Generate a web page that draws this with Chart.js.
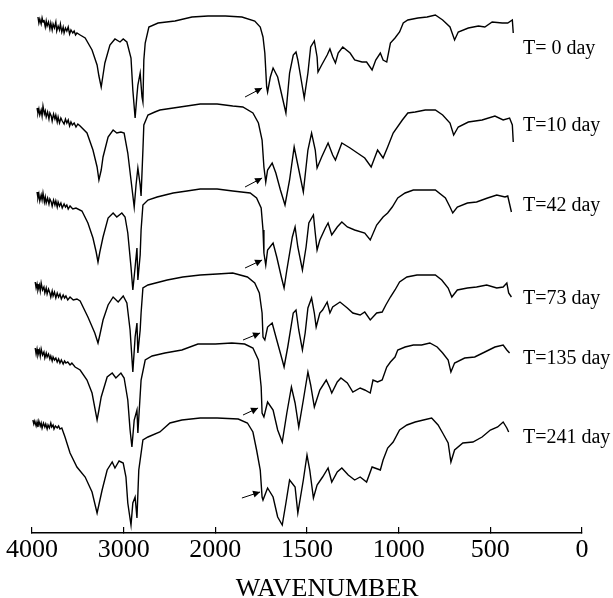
<!DOCTYPE html>
<html>
<head>
<meta charset="utf-8">
<script src="https://cdn.jsdelivr.net/npm/chart.js@4.4.1/dist/chart.umd.min.js"></script>
<style>
    html, body { margin: 0; padding: 0; background: #fff; }
    #wrap { width: 613px; height: 598px; }
</style>
</head>
<body>
<div id="wrap"><canvas id="ftir" width="613" height="598"></canvas></div>
<script>
// =================================================================
// FTIR spectra vs. ageing time (stacked traces)
// =================================================================

// Labels of the six samples (top to bottom)
const sampleLabels = ['T= 0 day', 'T=10 day', 'T=42 day', 'T=73 day', 'T=135 day', 'T=241 day'];

// Wavenumbers labelled on the axis (scale is doubled below 2000 cm-1)
const tickWavenumbers = [0, 500, 1000, 1500, 2000, 3000, 4000];

// Each trace: [wavenumber (cm-1), transmittance (a.u., stacked)]
const traceDay0 = [
    [3935, 516], [3925, 510], [3915, 514], [3900, 509], [3890, 515], [3880, 511], [3870, 513],
    [3855, 506], [3845, 512], [3835, 507], [3820, 511], [3805, 504], [3795, 510], [3780, 503],
    [3770, 509], [3755, 505], [3740, 511], [3730, 502], [3715, 507], [3700, 503], [3690, 509],
    [3675, 501], [3660, 506], [3650, 500], [3635, 505], [3620, 502], [3605, 506], [3590, 499],
    [3575, 503], [3555, 500], [3540, 502], [3525, 498], [3510, 500], [3475, 498],
    [3420, 495], [3345, 483], [3290, 468], [3270, 457], [3245, 446], [3225, 458],
    [3205, 470], [3150, 488], [3095, 494], [3040, 491], [3005, 494], [2965, 491], [2920, 475],
    [2900, 443], [2875, 415], [2855, 438], [2845, 448], [2820, 460], [2800, 436], [2790, 431],
    [2780, 473], [2765, 490], [2725, 506], [2625, 510], [2440, 512], [2255, 516], [2080, 517],
    [1945, 517], [1855, 516], [1785, 512], [1755, 506], [1740, 496], [1730, 480], [1720, 446],
    [1715, 441], [1700, 456], [1685, 465], [1660, 456], [1635, 436], [1615, 420], [1595, 460],
    [1575, 478], [1560, 481], [1550, 473], [1525, 446], [1515, 435], [1495, 460], [1480, 486],
    [1460, 492], [1445, 476], [1440, 461], [1420, 468], [1390, 478], [1375, 484], [1360, 476],
    [1345, 470], [1330, 480], [1305, 486], [1265, 480], [1240, 473], [1200, 471], [1175, 471],
    [1145, 463], [1125, 473], [1100, 480], [1085, 473], [1065, 471], [1045, 490], [1020, 495],
    [995, 501], [975, 510], [950, 513], [895, 515], [845, 516], [800, 518], [760, 513],
    [720, 506], [695, 493], [675, 501], [620, 505], [565, 507], [530, 506], [490, 511],
    [435, 510], [405, 510], [380, 513], [375, 500]
];

const traceDay10 = [
    [3945, 425], [3935, 420], [3925, 424], [3915, 418], [3900, 423], [3890, 417], [3880, 427],
    [3865, 419], [3855, 422], [3845, 416], [3830, 421], [3815, 414], [3805, 420], [3790, 417],
    [3780, 412], [3765, 419], [3750, 414], [3740, 418], [3725, 411], [3715, 416], [3700, 410],
    [3685, 415], [3670, 412], [3650, 409], [3635, 414], [3620, 410], [3605, 413], [3590, 407],
    [3575, 411], [3560, 408], [3540, 410], [3520, 406], [3500, 409], [3475, 407],
    [3400, 400], [3335, 383], [3290, 366], [3270, 353], [3245, 363], [3225, 376], [3170, 396],
    [3115, 403], [3075, 400], [3030, 401], [2995, 400], [2955, 380], [2920, 353], [2885, 326],
    [2865, 348], [2845, 365], [2820, 348], [2810, 337], [2790, 383], [2780, 408], [2735, 418],
    [2660, 421], [2605, 423], [2385, 426], [2165, 429], [1990, 429], [1905, 427], [1850, 426],
    [1795, 420], [1765, 410], [1745, 393], [1735, 366], [1725, 351], [1715, 363], [1690, 370],
    [1670, 360], [1645, 343], [1620, 328], [1595, 353], [1570, 386], [1550, 368], [1520, 341],
    [1495, 383], [1475, 400], [1455, 383], [1445, 365], [1420, 376], [1385, 390], [1360, 378],
    [1345, 373], [1310, 390], [1265, 385], [1225, 380], [1185, 375], [1150, 366], [1115, 383],
    [1085, 375], [1060, 386], [1030, 400], [980, 413], [950, 420], [910, 421], [855, 423],
    [800, 423], [760, 418], [720, 410], [700, 398], [675, 406], [620, 411], [545, 413],
    [475, 417], [430, 413], [395, 415], [380, 408], [375, 391]
];

const traceDay42 = [
    [3945, 341], [3935, 335], [3925, 339], [3915, 332], [3900, 338], [3890, 333], [3880, 340],
    [3865, 331], [3855, 336], [3845, 330], [3830, 335], [3815, 329], [3805, 334], [3790, 331],
    [3780, 327], [3765, 333], [3750, 328], [3740, 332], [3725, 326], [3715, 331], [3700, 327],
    [3685, 330], [3670, 325], [3650, 329], [3635, 326], [3620, 328], [3605, 324], [3585, 327],
    [3555, 324], [3520, 325], [3455, 322],
    [3390, 310], [3335, 295], [3300, 281], [3280, 271], [3260, 281], [3225, 296], [3170, 315],
    [3115, 320], [3075, 316], [3020, 320], [2985, 316], [2955, 300], [2920, 266], [2900, 243],
    [2875, 266], [2855, 285], [2845, 253], [2820, 278], [2810, 303], [2790, 328], [2735, 333],
    [2635, 336], [2460, 340], [2310, 342], [2165, 344], [1990, 344], [1905, 342], [1810, 340],
    [1775, 335], [1750, 325], [1740, 303], [1735, 280], [1725, 268], [1715, 283], [1685, 290],
    [1665, 276], [1640, 256], [1625, 245], [1610, 263], [1580, 296], [1565, 306], [1550, 286],
    [1525, 263], [1505, 286], [1490, 310], [1465, 318], [1455, 300], [1445, 283], [1430, 293],
    [1400, 305], [1385, 310], [1365, 298], [1335, 306], [1310, 311], [1280, 306], [1240, 303],
    [1185, 300], [1155, 293], [1120, 308], [1085, 316], [1060, 320], [1035, 326], [1005, 335],
    [965, 340], [920, 343], [865, 343], [800, 343], [745, 335], [720, 326], [705, 320],
    [680, 326], [625, 330], [575, 331], [515, 335], [465, 338], [420, 336], [405, 337], [385, 321]
];

const traceDay73 = [
    [3965, 251], [3955, 245], [3945, 249], [3935, 243], [3920, 248], [3910, 242], [3900, 250],
    [3885, 243], [3870, 246], [3860, 240], [3845, 245], [3835, 239], [3820, 244], [3805, 240],
    [3795, 236], [3780, 242], [3770, 237], [3755, 241], [3740, 235], [3725, 240], [3710, 236],
    [3695, 239], [3680, 234], [3660, 238], [3645, 235], [3630, 237], [3610, 233], [3585, 236],
    [3550, 233], [3510, 234], [3475, 232],
    [3390, 216], [3315, 200], [3280, 190], [3260, 198], [3225, 213], [3170, 228], [3115, 236],
    [3060, 231], [3005, 237], [2965, 230], [2930, 203], [2900, 161], [2875, 196], [2855, 210],
    [2845, 180], [2820, 203], [2810, 220], [2790, 245], [2735, 248], [2525, 253], [2355, 256],
    [2165, 258], [1990, 259], [1905, 260], [1825, 256], [1785, 250], [1760, 240], [1745, 220],
    [1740, 196], [1730, 193], [1715, 206], [1690, 210], [1665, 193], [1635, 173], [1625, 166],
    [1605, 186], [1575, 220], [1560, 223], [1545, 203], [1525, 183], [1510, 200], [1495, 225],
    [1475, 235], [1460, 220], [1450, 206], [1430, 220], [1415, 223], [1390, 231], [1375, 220],
    [1360, 226], [1320, 231], [1280, 225], [1250, 220], [1210, 218], [1185, 221], [1155, 213],
    [1120, 220], [1090, 221], [1070, 228], [1045, 236], [1020, 243], [995, 251], [955, 256],
    [900, 258], [845, 258], [800, 258], [765, 253], [730, 245], [710, 236], [680, 243],
    [625, 245], [575, 246], [520, 248], [465, 245], [430, 246], [410, 250], [400, 240], [385, 236]
];

const traceDay135 = [
    [3965, 185], [3955, 179], [3945, 184], [3935, 178], [3920, 183], [3910, 177], [3900, 184],
    [3885, 178], [3870, 181], [3860, 175], [3845, 180], [3835, 176], [3820, 179], [3805, 174],
    [3795, 177], [3780, 172], [3770, 176], [3755, 173], [3740, 175], [3725, 171], [3710, 174],
    [3695, 170], [3680, 173], [3660, 169], [3645, 172], [3630, 170], [3610, 171], [3585, 168],
    [3565, 170], [3530, 166], [3475, 163],
    [3400, 153], [3345, 140], [3290, 113], [3270, 123], [3245, 136], [3180, 156], [3125, 160],
    [3085, 155], [3030, 160], [2995, 155], [2955, 133], [2930, 103], [2910, 86], [2885, 113],
    [2855, 123], [2845, 100], [2810, 153], [2765, 173], [2690, 177], [2550, 180], [2365, 183],
    [2190, 189], [2000, 189], [1910, 190], [1840, 189], [1795, 185], [1765, 173], [1750, 146],
    [1745, 120], [1735, 116], [1715, 131], [1685, 123], [1660, 103], [1635, 91], [1610, 120],
    [1585, 146], [1565, 130], [1545, 106], [1520, 133], [1495, 161], [1480, 148], [1460, 126],
    [1430, 143], [1395, 153], [1375, 145], [1365, 140], [1335, 151], [1315, 155], [1280, 150],
    [1250, 141], [1210, 145], [1185, 143], [1155, 140], [1140, 153], [1115, 151], [1090, 153],
    [1065, 166], [1045, 171], [1020, 176], [1005, 183], [965, 186], [920, 188], [875, 188],
    [830, 190], [790, 186], [760, 180], [730, 173], [715, 161], [695, 170], [640, 175],
    [585, 176], [530, 181], [475, 186], [430, 188], [410, 183], [395, 180]
];

const traceDay241 = [
    [3990, 113], [3980, 109], [3970, 112], [3955, 107], [3945, 111], [3935, 106], [3925, 112],
    [3910, 107], [3900, 110], [3890, 105], [3875, 110], [3860, 106], [3850, 109], [3835, 104],
    [3825, 108], [3810, 105], [3795, 110], [3785, 106], [3770, 108], [3760, 104], [3745, 107],
    [3725, 105], [3710, 107], [3695, 104], [3675, 105],
    [3640, 96], [3585, 80], [3510, 66], [3420, 56], [3345, 41], [3290, 20], [3235, 43],
    [3180, 63], [3125, 71], [3095, 65], [3050, 72], [3005, 70], [2975, 56], [2955, 30],
    [2920, 8], [2900, 30], [2875, 36], [2855, 15], [2835, 63], [2790, 93], [2735, 96],
    [2605, 101], [2495, 110], [2365, 113], [2165, 115], [1990, 115], [1875, 114], [1825, 110],
    [1795, 101], [1775, 83], [1755, 63], [1745, 36], [1740, 33], [1715, 45], [1685, 36],
    [1660, 16], [1635, 8], [1615, 30], [1595, 53], [1565, 46], [1550, 20], [1520, 53],
    [1500, 78], [1485, 63], [1465, 35], [1445, 48], [1415, 56], [1385, 65], [1365, 51],
    [1335, 61], [1310, 65], [1275, 58], [1240, 53], [1210, 56], [1175, 51], [1145, 66],
    [1130, 65], [1100, 63], [1085, 73], [1060, 85], [1030, 91], [995, 103], [955, 108],
    [910, 111], [865, 113], [820, 115], [785, 108], [760, 100], [730, 90], [715, 71],
    [695, 83], [650, 90], [595, 91], [545, 96], [500, 103], [460, 106], [430, 111],
    [410, 105], [400, 101]
];

// Carbonyl arrows (start -> tip), same units as the traces
const arrowTail = [[1838, 436], [1838, 346], [1838, 265], [1849, 193], [1849, 118], [1855, 35]];
const arrowTip = [[1745, 445], [1745, 355], [1745, 273], [1756, 200], [1767, 125], [1756, 41]];

const traces = [traceDay0, traceDay10, traceDay42, traceDay73, traceDay135, traceDay241];

// =================================================================
// Escala com quebra em 2000 cm-1
// =================================================================
function toAxisUnits(w) { return w > 2000 ? 2000 + (w - 2000) / 2 : w; }
function fromAxisUnits(u) { return u > 2000 ? 2000 + (u - 2000) * 2 : u; }

class FtirScale extends Chart.LinearScale {
    getPixelForValue(value) {
        return this.getPixelForDecimal(toAxisUnits(value) / toAxisUnits(this.max));
    }
    getValueForPixel(pixel) {
        return fromAxisUnits(this.getDecimalForPixel(pixel) * toAxisUnits(this.max));
    }
}
FtirScale.id = 'ftir';
FtirScale.defaults = Chart.LinearScale.defaults;
Chart.register(FtirScale);

const SERIF = '"Liberation Serif", "Times New Roman", serif';

// label anchors (left edge / baseline)
const labelAnchor = [[322, 479], [322, 402], [322, 322], [322, 229], [322, 169], [322, 90]];

const annotatePlugin = {
    id: 'annotate',
    afterDatasetsDraw(chart) {
        const { ctx } = chart;
        const x = chart.scales.x, y = chart.scales.y;
        ctx.save();
        ctx.strokeStyle = '#000';
        ctx.fillStyle = '#000';
        ctx.lineWidth = 1;

        // setas da carbonila
        arrowTail.forEach((t, i) => {
            const x0 = x.getPixelForValue(t[0]), y0 = y.getPixelForValue(t[1]);
            const x1 = x.getPixelForValue(arrowTip[i][0]), y1 = y.getPixelForValue(arrowTip[i][1]);
            const ang = Math.atan2(y1 - y0, x1 - x0);
            ctx.beginPath();
            ctx.moveTo(x0, y0);
            ctx.lineTo(x1, y1);
            ctx.stroke();
            ctx.beginPath();
            ctx.moveTo(x1, y1);
            ctx.lineTo(x1 - 7 * Math.cos(ang) + 3.5 * Math.sin(ang), y1 - 7 * Math.sin(ang) - 3.5 * Math.cos(ang));
            ctx.lineTo(x1 - 7 * Math.cos(ang) - 3.5 * Math.sin(ang), y1 - 7 * Math.sin(ang) + 3.5 * Math.cos(ang));
            ctx.closePath();
            ctx.fill();
        });

        ctx.font = '20px ' + SERIF;
        ctx.textAlign = 'left';
        ctx.textBaseline = 'alphabetic';
        sampleLabels.forEach((s, i) => {
            ctx.fillText(s, x.getPixelForValue(labelAnchor[i][0]), y.getPixelForValue(labelAnchor[i][1]));
        });

        ctx.font = '26px ' + SERIF;
        ctx.textAlign = 'center';
        ctx.fillText('WAVENUMBER', x.getPixelForValue(1390), x.bottom - 2);
        ctx.restore();
    }
};

new Chart(document.getElementById('ftir'), {
    type: 'line',
    data: {
        datasets: traces.map((t, i) => ({
            label: sampleLabels[i],
            data: t.map(p => ({ x: p[0], y: p[1] })),
            borderColor: '#000',
            borderWidth: 1.4,
            pointRadius: 0,
            tension: 0,
            fill: false
        }))
    },
    options: {
        responsive: false,
        animation: false,
        layout: { padding: { left: 32, right: 31, top: 0, bottom: 0 } },
        plugins: { legend: { display: false }, tooltip: { enabled: false } },
        scales: {
            x: {
                type: 'ftir',
                reverse: true,
                min: 0,
                max: 4000,
                afterBuildTicks: s => { s.ticks = tickWavenumbers.map(v => ({ value: v })); },
                afterFit: s => { s.height = 65; },
                border: { display: true, color: '#000', width: 1.5 },
                grid: { drawOnChartArea: false, drawTicks: true, tickLength: -6, color: '#000', lineWidth: 1.2 },
                ticks: {
                    color: '#000',
                    font: { family: SERIF, size: 26 },
                    padding: 8,
                    maxRotation: 0,
                    autoSkip: false,
                    callback: v => String(v)
                }
            },
            y: { display: false, min: 0, max: 533 }
        }
    },
    plugins: [annotatePlugin]
});
</script>
</body>
</html>
